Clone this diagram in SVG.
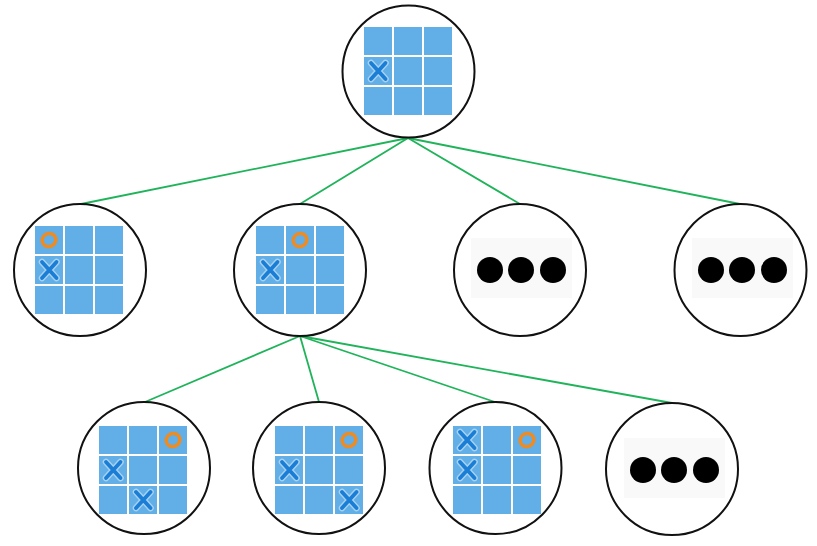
<svg xmlns="http://www.w3.org/2000/svg" xmlns:xlink="http://www.w3.org/1999/xlink" width="817" height="546" viewBox="0 0 817 546">
<style>
.node{fill:#ffffff;stroke:#111111;stroke-width:2}
.cell{fill:#62aee7}
.edge{stroke:#1fb35a;stroke-width:1.8;fill:none}
.xo{stroke:#a8d2f2;stroke-width:6.5;stroke-linecap:round;fill:none}
.xi{stroke:#1a7ed6;stroke-width:3.8;stroke-linecap:round;fill:none}
.oo{stroke:#f28a1c;stroke-width:3.4;fill:none}
.panel{fill:#f9f9f9}
.dot{fill:#000000}
</style>
<defs>
<g id="grid">
<rect class="cell" x="0" y="0" width="28" height="28"/>
<rect class="cell" x="30" y="0" width="28" height="28"/>
<rect class="cell" x="60" y="0" width="28" height="28"/>
<rect class="cell" x="0" y="30" width="28" height="28"/>
<rect class="cell" x="30" y="30" width="28" height="28"/>
<rect class="cell" x="60" y="30" width="28" height="28"/>
<rect class="cell" x="0" y="60" width="28" height="28"/>
<rect class="cell" x="30" y="60" width="28" height="28"/>
<rect class="cell" x="60" y="60" width="28" height="28"/>
</g>
<g id="xm">
<path class="xo" d="M7,6 L21.5,22 M21.5,6 L7,22"/>
<path class="xi" d="M7,6 L21.5,22 M21.5,6 L7,22"/>
</g>
<g id="om">
<ellipse class="oo" cx="14" cy="14" rx="7" ry="6.5" transform="rotate(-30 14 14)"/>
</g>
<g id="dots">
<rect class="panel" x="0" y="0" width="101" height="60"/>
<circle class="dot" cx="19" cy="32" r="13"/>
<circle class="dot" cx="50" cy="32" r="13"/>
<circle class="dot" cx="82" cy="32" r="13"/>
</g>
</defs>
<g id="connectors">
<line class="edge" x1="408" y1="138" x2="81" y2="204"/>
<line class="edge" x1="408" y1="138" x2="300" y2="204"/>
<line class="edge" x1="408" y1="138" x2="520" y2="204"/>
<line class="edge" x1="408" y1="138" x2="740" y2="204"/>
<line class="edge" x1="300" y1="336" x2="145" y2="402"/>
<line class="edge" x1="300" y1="336" x2="319" y2="402"/>
<line class="edge" x1="300" y1="336" x2="495" y2="402"/>
<line class="edge" x1="300" y1="336" x2="672" y2="403"/>
</g>
<g id="root">
<circle class="node" cx="408.5" cy="71.5" r="66"/>
<use xlink:href="#grid" x="364" y="27"/>
<use xlink:href="#xm" x="364" y="57"/>
</g>
<g id="n2-1">
<circle class="node" cx="80" cy="270" r="66"/>
<use xlink:href="#grid" x="35" y="226"/>
<use xlink:href="#om" x="35" y="226"/>
<use xlink:href="#xm" x="35" y="256"/>
</g>
<g id="n2-2">
<circle class="node" cx="300" cy="270" r="66"/>
<use xlink:href="#grid" x="256" y="226"/>
<use xlink:href="#om" x="286" y="226"/>
<use xlink:href="#xm" x="256" y="256"/>
</g>
<g id="n2-3">
<circle class="node" cx="520" cy="270" r="66"/>
<use xlink:href="#dots" x="471" y="238"/>
</g>
<g id="n2-4">
<circle class="node" cx="740.5" cy="270" r="66"/>
<use xlink:href="#dots" x="692" y="238"/>
</g>
<g id="n3-1">
<circle class="node" cx="144" cy="468" r="66"/>
<use xlink:href="#grid" x="99" y="426"/>
<use xlink:href="#om" x="159" y="426"/>
<use xlink:href="#xm" x="99" y="456"/>
<use xlink:href="#xm" x="129" y="486"/>
</g>
<g id="n3-2">
<circle class="node" cx="319" cy="468" r="66"/>
<use xlink:href="#grid" x="275" y="426"/>
<use xlink:href="#om" x="335" y="426"/>
<use xlink:href="#xm" x="275" y="456"/>
<use xlink:href="#xm" x="335" y="486"/>
</g>
<g id="n3-3">
<circle class="node" cx="495.5" cy="468" r="66"/>
<use xlink:href="#grid" x="453" y="426"/>
<use xlink:href="#xm" x="453" y="426"/>
<use xlink:href="#om" x="513" y="426"/>
<use xlink:href="#xm" x="453" y="456"/>
</g>
<g id="n3-4">
<circle class="node" cx="672" cy="469" r="66"/>
<use xlink:href="#dots" x="624" y="438"/>
</g>
</svg>
